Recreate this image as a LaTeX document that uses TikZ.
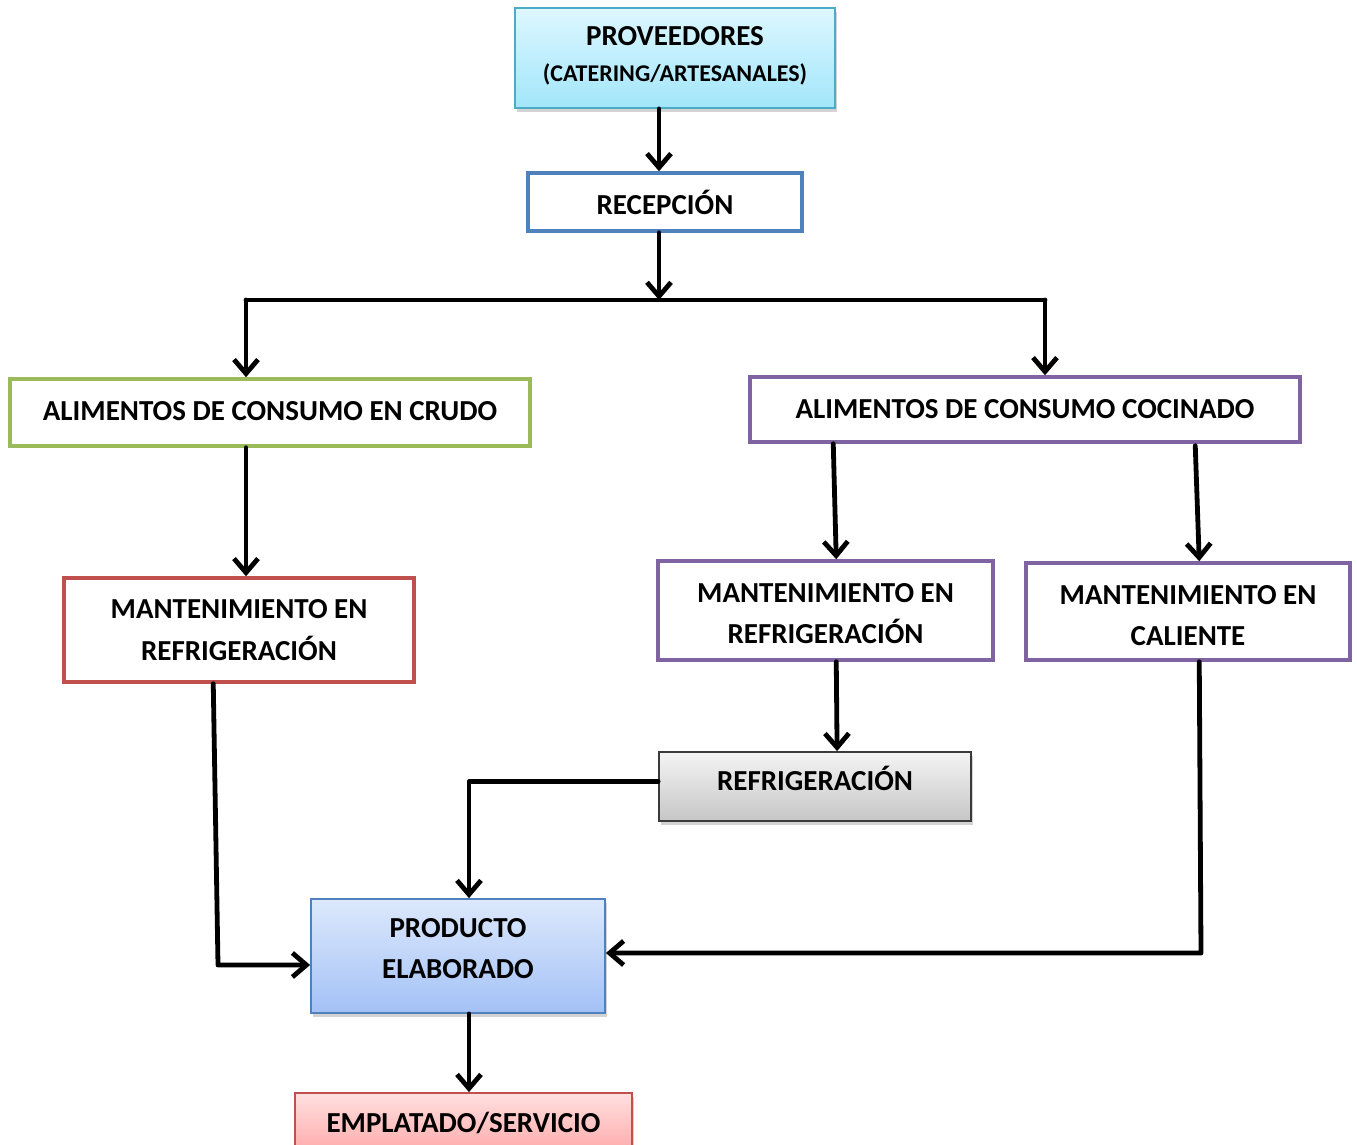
\documentclass[tikz,border=0pt]{standalone}
\usepackage{fontspec}
\setmainfont{Carlito}
\usetikzlibrary{arrows.meta,calc,shadows}

\definecolor{cyanline}{HTML}{4BACC6}
\definecolor{cyantop}{HTML}{DDF7FF}
\definecolor{cyanbot}{HTML}{A2E6FA}
\definecolor{blueline}{HTML}{4F81BD}
\definecolor{bluetop}{HTML}{DDE9FC}
\definecolor{bluebot}{HTML}{A3C1F6}
\definecolor{greenline}{HTML}{9BBB59}
\definecolor{redline}{HTML}{C0504D}
\definecolor{redtop}{HTML}{FFE0E0}
\definecolor{redbot}{HTML}{FFA6A6}
\definecolor{purpleline}{HTML}{8064A2}
\definecolor{greytop}{HTML}{F4F4F4}
\definecolor{greybot}{HTML}{C6C6C6}
\definecolor{greyline}{HTML}{3A3A3A}

\tikzset{
  box/.style={rectangle, inner sep=0pt},
  plainbox/.style={box, draw=#1, line width=3.5pt, fill=white},
  shadedbox/.style={box, draw=#1, line width=1.8pt,
    drop shadow={opacity=0.35, shadow xshift=2pt, shadow yshift=-4pt}},
  % text height = cap height, so the node centre sits mid-caps
  label/.style={align=center, inner sep=0pt, text height=18.7pt, text depth=0pt,
    font=\fontsize{29}{42}\selectfont\bfseries},
  sublabel/.style={label, text height=15.5pt,
    font=\fontsize{24}{28}\selectfont\bfseries},
  flow/.style={line width=4.8pt, line cap=round, line join=round,
    -{Straight Barb[length=14pt,width=24pt,line width=4.8pt]}},
  link/.style={line width=4.8pt, line cap=round, line join=round},
}

\begin{document}
\begin{tikzpicture}[x=1pt,y=-1pt]
  \useasboundingbox (0,0) rectangle (1357,1145);
  \clip (0,0) rectangle (1357,1145);

  % boxes
  \node[shadedbox=cyanline, top color=cyantop, bottom color=cyanbot,
        minimum width=320pt, minimum height=100pt] (prov) at (675,58) {};
  \node[plainbox=blueline, minimum width=274pt, minimum height=58pt] (rec) at (665,202) {};
  \node[plainbox=greenline, minimum width=520pt, minimum height=67pt] (cru) at (270,412.5) {};
  \node[plainbox=purpleline, minimum width=550pt, minimum height=65pt] (coc) at (1025,409.5) {};
  \node[plainbox=redline, minimum width=350pt, minimum height=104pt] (mr1) at (239,630) {};
  \node[plainbox=purpleline, minimum width=335pt, minimum height=99pt] (mr2) at (825.5,610.5) {};
  \node[plainbox=purpleline, minimum width=324pt, minimum height=97pt] (cal) at (1188,611.5) {};
  \node[shadedbox=greyline, top color=greytop, bottom color=greybot,
        minimum width=312pt, minimum height=69pt] (ref) at (815,786.5) {};
  \node[shadedbox=blueline, top color=bluetop, bottom color=bluebot,
        minimum width=294pt, minimum height=114pt] (prod) at (458,956) {};
  \node[shadedbox=redline, top color=redtop, bottom color=redbot,
        minimum width=337pt, minimum height=64pt] (emp) at (463.5,1125) {};

  % texts
  \node[label] (provtext) at (675,36) {PROVEEDORES};
  \node[sublabel] (provsub) at (675,74) {(CATERING/ARTESANALES)};
  \node[label] (rectext) at (665,205) {RECEPCIÓN};
  \node[label] (crutext) at (270,411) {ALIMENTOS DE CONSUMO EN CRUDO};
  \node[label] (coctext) at (1025,409) {ALIMENTOS DE CONSUMO COCINADO};
  \node[label] (mr1a) at (239,609) {MANTENIMIENTO EN};
  \node[label] (mr1b) at (239,651) {REFRIGERACIÓN};
  \node[label] (mr2a) at (825.5,593) {MANTENIMIENTO EN};
  \node[label] (mr2b) at (825.5,634) {REFRIGERACIÓN};
  \node[label] (cala) at (1188,595) {MANTENIMIENTO EN};
  \node[label] (calb) at (1188,636) {CALIENTE};
  \node[label] (reftext) at (815,781) {REFRIGERACIÓN};
  \node[label] (proda) at (458,928) {PRODUCTO};
  \node[label] (prodb) at (458,969) {ELABORADO};
  \node[label] (emptext) at (463.5,1123) {EMPLATADO/SERVICIO};

  % connectors
  \coordinate (lt) at (246,300);
  \coordinate (rt) at (1045,300);
  \coordinate (mid) at (659,300);
  \draw[flow] (prov.south -| mid) -- (rec.north -| mid);
  \draw[flow] (rec.south -| mid) -- (mid);
  \draw[link] (lt) -- (rt);
  \draw[flow] (lt) -- (cru.north -| lt);
  \draw[flow] (rt) -- (coc.north -| rt);
  \draw[flow] (cru.south -| lt) -- (mr1.north -| lt);
  \draw[flow] ($(coc.south west)+(85,0)$) -- ($(mr2.north west)+(180,0)$);
  \draw[flow] ($(coc.south west)+(447,2)$) -- ($(cal.north west)+(175,0)$);
  \draw[flow] ($(mr2.south west)+(180,0)$) -- ($(ref.north west)+(179,0)$);
  \draw[flow] ($(ref.west)+(0,-5)$) -| (prod.north -| 469,0);
  \draw[flow] ($(mr1.south west)+(151,0)$) -- (218,965) -- (prod.west |- 0,965);
  \draw[flow] ($(cal.south west)+(175,0)$) -- (1201,953) -- (prod.east |- 0,953);
  \draw[flow] (prod.south -| 469,0) -- (emp.north -| 469,0);
\end{tikzpicture}
\end{document}
